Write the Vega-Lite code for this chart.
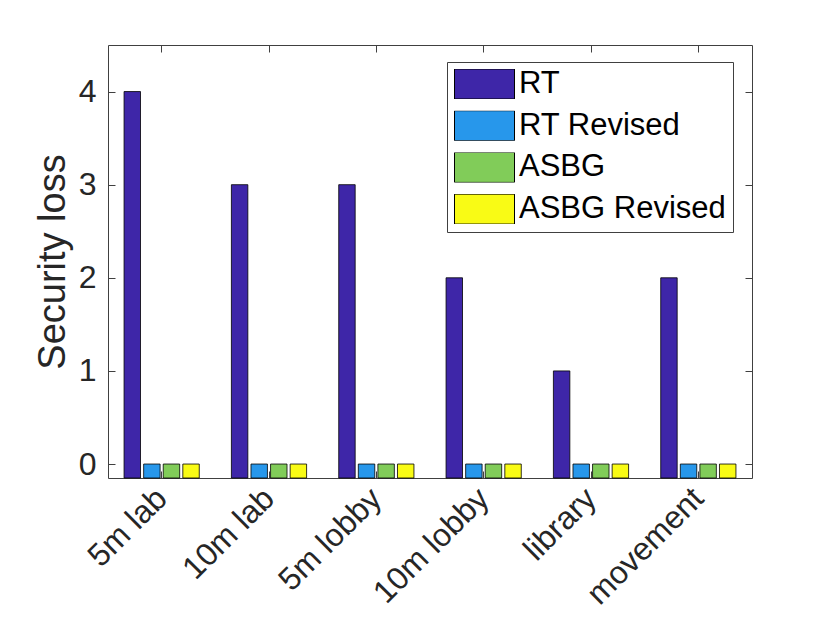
{
  "$schema": "https://vega.github.io/schema/vega-lite/v6.json",
  "autosize": "none",
  "width": 644,
  "height": 433,
  "padding": {"left": 108, "top": 45, "right": 78, "bottom": 145},
  "background": "white",
  "config": {
    "font": "Liberation Sans",
    "view": {"stroke": "#404040", "strokeWidth": 1},
    "axis": {
      "domain": false,
      "grid": false,
      "tickColor": "#404040",
      "tickSize": -7,
      "tickWidth": 1,
      "labelFont": "Liberation Sans",
      "labelFontSize": 32,
      "labelColor": "#262626",
      "titleFont": "Liberation Sans",
      "titleFontSize": 38,
      "titleFontWeight": "normal",
      "titleColor": "#262626"
    },
    "legend": {
      "labelFont": "Liberation Sans",
      "labelFontSize": 31,
      "labelColor": "#000000"
    }
  },
  "data": {
    "values": [
      {"scenario": "5m lab", "method": "RT", "loss": 4},
      {"scenario": "5m lab", "method": "RT Revised", "loss": 0},
      {"scenario": "5m lab", "method": "ASBG", "loss": 0},
      {"scenario": "5m lab", "method": "ASBG Revised", "loss": 0},
      {"scenario": "10m lab", "method": "RT", "loss": 3},
      {"scenario": "10m lab", "method": "RT Revised", "loss": 0},
      {"scenario": "10m lab", "method": "ASBG", "loss": 0},
      {"scenario": "10m lab", "method": "ASBG Revised", "loss": 0},
      {"scenario": "5m lobby", "method": "RT", "loss": 3},
      {"scenario": "5m lobby", "method": "RT Revised", "loss": 0},
      {"scenario": "5m lobby", "method": "ASBG", "loss": 0},
      {"scenario": "5m lobby", "method": "ASBG Revised", "loss": 0},
      {"scenario": "10m lobby", "method": "RT", "loss": 2},
      {"scenario": "10m lobby", "method": "RT Revised", "loss": 0},
      {"scenario": "10m lobby", "method": "ASBG", "loss": 0},
      {"scenario": "10m lobby", "method": "ASBG Revised", "loss": 0},
      {"scenario": "library", "method": "RT", "loss": 1},
      {"scenario": "library", "method": "RT Revised", "loss": 0},
      {"scenario": "library", "method": "ASBG", "loss": 0},
      {"scenario": "library", "method": "ASBG Revised", "loss": 0},
      {"scenario": "movement", "method": "RT", "loss": 2},
      {"scenario": "movement", "method": "RT Revised", "loss": 0},
      {"scenario": "movement", "method": "ASBG", "loss": 0},
      {"scenario": "movement", "method": "ASBG Revised", "loss": 0}
    ]
  },
  "layer": [
    {
      "mark": {"type": "bar", "stroke": "#000000", "strokeWidth": 0.8, "opacity": 1},
      "encoding": {
        "x": {
          "field": "scenario", "type": "nominal", "sort": null,
          "scale": {"paddingInner": 0, "paddingOuter": 0},
          "axis": {"orient": "bottom", "title": null, "labelAngle": -45, "labelAlign": "right", "labelBaseline": "middle", "labelPadding": 22}
        },
        "xOffset": {
          "field": "method", "type": "nominal",
          "sort": ["RT", "RT Revised", "ASBG", "ASBG Revised"],
          "scale": {"paddingInner": 0.16, "paddingOuter": 0.82}
        },
        "y": {
          "field": "loss", "type": "quantitative",
          "scale": {"domain": [-0.15, 4.5], "nice": false, "zero": false},
          "axis": {"orient": "left", "title": "Security loss", "values": [0, 1, 2, 3, 4], "labelPadding": 19, "titlePadding": 6}
        },
        "y2": {"datum": -0.15},
        "color": {
          "field": "method", "type": "nominal",
          "sort": ["RT", "RT Revised", "ASBG", "ASBG Revised"],
          "scale": {
            "domain": ["RT", "RT Revised", "ASBG", "ASBG Revised"],
            "range": ["#3e26a8", "#2797eb", "#81cc59", "#f9fb15"]
          },
          "legend": {
            "orient": "none",
            "legendX": 339,
            "legendY": 17,
            "title": null,
            "padding": 7,
            "strokeColor": "#404040",
            "fillColor": "#ffffff",
            "symbolType": "M-1,-0.5H1V0.5H-1Z",
            "symbolSize": 3600,
            "symbolStrokeColor": "#000000",
            "symbolStrokeWidth": 1,
            "symbolOpacity": 1,
            "clipHeight": 30,
            "rowPadding": 10.7,
            "labelOffset": 4,
            "labelLimit": 400
          }
        }
      }
    },
    {
      "mark": {"type": "point", "opacity": 0},
      "encoding": {
        "x": {
          "field": "scenario", "type": "nominal", "sort": null,
          "axis": {"orient": "top", "title": null, "labels": false}
        },
        "y": {
          "field": "loss", "type": "quantitative",
          "axis": {"orient": "right", "title": null, "labels": false, "values": [0, 1, 2, 3, 4]}
        }
      }
    }
  ],
  "resolve": {"axis": {"x": "independent", "y": "independent"}}
}
